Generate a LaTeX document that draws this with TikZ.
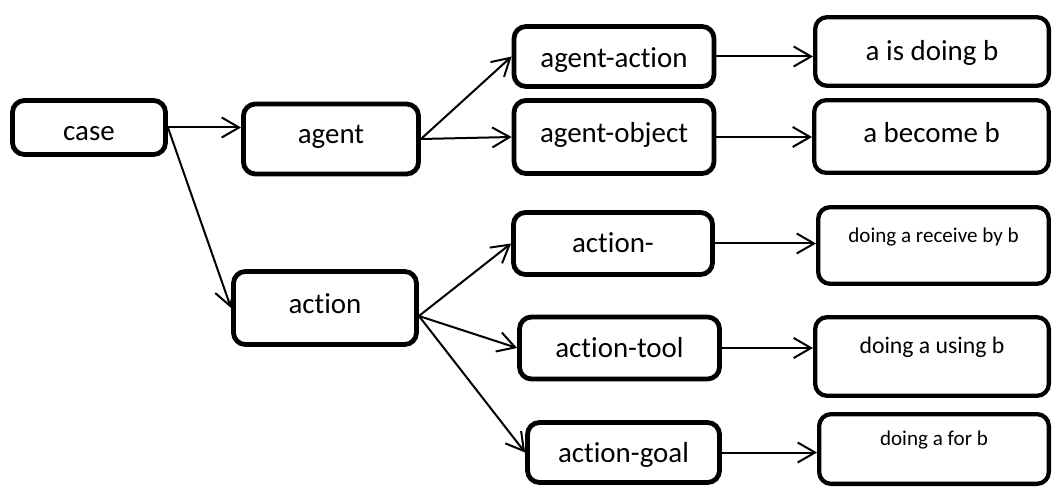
\documentclass[tikz,border=0pt]{standalone}
\usepackage{fontspec}
\setmainfont{Carlito}[Ligatures=NoCommon]
\usetikzlibrary{arrows.meta}
\tikzset{
  casebox/.style={draw, line width=3.6pt, rounded corners=9pt, inner sep=0pt,
    font=\fontsize{21.7}{24}\selectfont, text height=17pt, text depth=2pt},
  lift/.style={text height=#1},
  resultbox/.style={casebox, line width=3.2pt},
  notebox/.style={resultbox, font=\fontsize{15.8}{18}\selectfont,
    text height=12pt, text depth=17pt},
  link/.style={line width=1.5pt,
    -{Straight Barb[length=13pt,width=15pt,line width=1.5pt]}}
}

\begin{document}
\begin{tikzpicture}[x=0.75pt,y=-0.75pt]
\useasboundingbox (0,0) rectangle (1053,488);
% case and its two kinds
\node[casebox, lift=20.8pt, minimum width=114.8pt, minimum height=40.5pt] (case) at (89,127.5) {case};
\node[casebox, lift=9pt, minimum width=131.3pt, minimum height=52.5pt] (agent) at (331,139) {agent};
\node[casebox, lift=11pt, minimum width=137.3pt, minimum height=54.8pt] (action) at (325,308) {action};
% relations
\node[casebox, lift=19.2pt, minimum width=150pt, minimum height=45pt] (agentact) at (614,56.5) {agent-action};
\node[casebox, lift=11pt, minimum width=150pt, minimum height=54.8pt] (agentobj) at (614,137) {agent-object};
\node[casebox, lift=16.2pt, minimum width=149.3pt, minimum height=46.5pt] (actrecv) at (613,243.5) {action-};
\node[casebox, minimum width=150pt, minimum height=46.5pt] (acttool) at (619.5,348) {action-tool};
\node[casebox, minimum width=144pt, minimum height=45pt] (actgoal) at (623.5,452.5) {action-goal};
% meanings
\node[resultbox, lift=15pt, minimum width=175.3pt, minimum height=51.5pt] (isdoing) at (932,51.5) {a is doing b};
\node[resultbox, lift=11pt, minimum width=176pt, minimum height=54.5pt] (become) at (931.5,136.5) {a become b};
\node[notebox, minimum width=173pt, minimum height=57.5pt] (recvby) at (933.5,245.5) {doing a receive by b};
\node[notebox, minimum width=175.3pt, minimum height=59pt, font=\fontsize{17.8}{20}\selectfont] (using) at (932,356.5) {doing a using b};
\node[notebox, minimum width=172.3pt, minimum height=52.3pt] (forb) at (934,449) {doing a for b};

\draw[link] (case.east) -- (case.east -| agent.west);
\draw[link] (case.east) -- (action.west);
\draw[link] (agent.east) -- (agentact.west);
\draw[link] (agent.east) -- (agentobj.west);
\draw[link] ([yshift=-6pt]action.east) -- (actrecv.west);
\draw[link] ([yshift=-6pt]action.east) -- (acttool.west);
\draw[link] ([yshift=-6pt]action.east) -- (actgoal.west);
\draw[link] (agentact.east) -- (agentact.east -| isdoing.west);
\draw[link] (agentobj.east) -- (agentobj.east -| become.west);
\draw[link] (actrecv.east) -- (actrecv.east -| recvby.west);
\draw[link] (acttool.east) -- (acttool.east -| using.west);
\draw[link] (actgoal.east) -- (actgoal.east -| forb.west);
\end{tikzpicture}
\end{document}
